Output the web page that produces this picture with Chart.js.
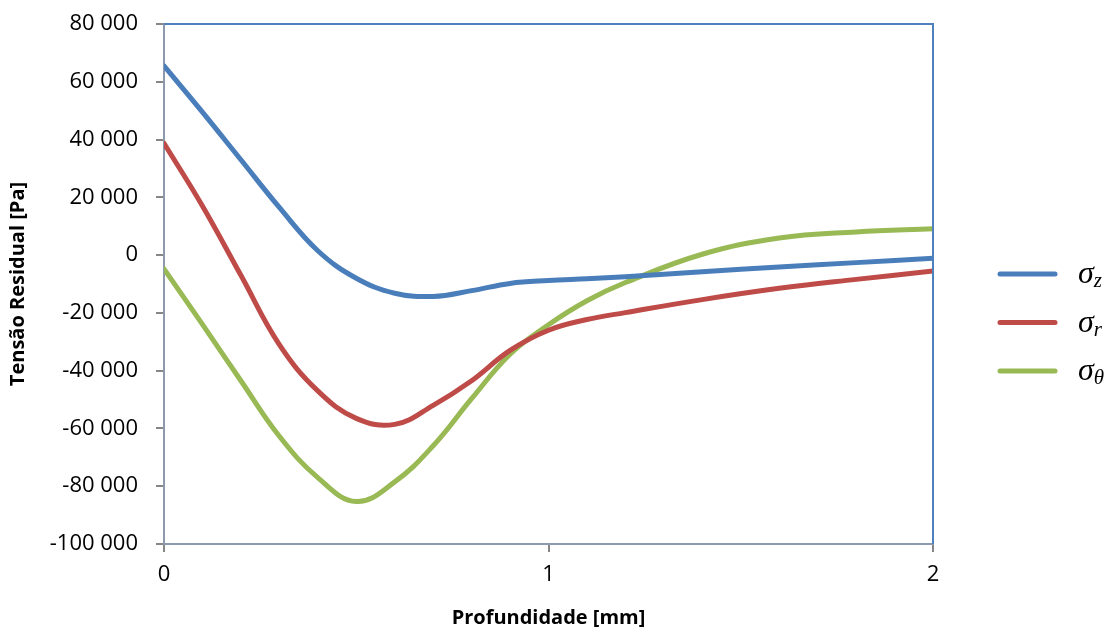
<!DOCTYPE html>
<html>
<head>
<meta charset="utf-8">
<script src="https://cdn.jsdelivr.net/npm/chart.js@4"></script>
<style>
  html, body { margin: 0; padding: 0; background: #ffffff; }
  #wrap { width: 1116px; height: 631px; position: relative; }
</style>
</head>
<body>
<div id="wrap"><canvas id="c" width="1116" height="631"></canvas></div>
<script>
// ---- data ----
const depth = [0, 0.1, 0.2, 0.3, 0.4, 0.5, 0.6, 0.7, 0.8, 0.9, 1.0, 1.1, 1.2, 1.4, 1.6, 1.8, 2.0];
const sigmaZ = [65500, 49500, 33000, 16500, 1500, -8000, -13200, -14300, -12300, -9800, -8800, -8200, -7500, -5800, -4100, -2600, -1100];
const sigmaR = [38700, 17000, -7000, -31000, -47000, -56500, -58600, -52000, -43500, -33000, -26000, -22300, -19900, -15400, -11500, -8400, -5500];
const sigmaTheta = [-4800, -24000, -43500, -62700, -77000, -85300, -78500, -66000, -49700, -34300, -24100, -15800, -9500, 300, 5900, 8000, 9100];
const seriesSymbols = ['σ', 'σ', 'σ'];
const seriesSubscripts = ['z', 'r', 'θ'];
const seriesColors = ['#4a7ebb', '#be4b48', '#98b954'];
const yTicks = [-100000, -80000, -60000, -40000, -20000, 0, 20000, 40000, 60000, 80000];
const xTicks = [0, 1, 2];
const xTitle = 'Profundidade [mm]';
const yTitle = 'Tensão Residual [Pa]';

function toPoints(xs, ys) { return xs.map((x, i) => ({ x: x, y: ys[i] })); }
function fmtThousands(v) {
  const s = Math.abs(v).toString().replace(/\B(?=(\d{3})+(?!\d))/g, ' ');
  return (v < 0 ? '-' : '') + s;
}

const seriesValues = [sigmaZ, sigmaR, sigmaTheta];
const datasets = seriesValues.map((vals, i) => ({
  label: seriesSymbols[i] + seriesSubscripts[i],
  data: toPoints(depth, vals),
  borderColor: seriesColors[i],
  backgroundColor: seriesColors[i],
  borderWidth: 5,
  pointRadius: 0,
  fill: false,
  tension: 0.4,
  borderCapStyle: 'round',
  borderJoinStyle: 'round'
}));

const frameAndLegend = {
  id: 'frameAndLegend',
  afterDraw(chart) {
    const ctx = chart.ctx;
    const a = chart.chartArea;
    ctx.save();
    // plot-area frame (top and right)
    ctx.strokeStyle = '#4f81bd';
    ctx.lineWidth = 2;
    ctx.beginPath();
    ctx.moveTo(a.left, a.top);
    ctx.lineTo(a.right, a.top);
    ctx.lineTo(a.right, a.bottom);
    ctx.stroke();
    // legend
    const x0 = 1000, x1 = 1055, tx = 1078;
    const ys = [274, 322.5, 371];
    chart.data.datasets.forEach((ds, i) => {
      const y = ys[i];
      ctx.strokeStyle = ds.borderColor;
      ctx.lineWidth = 5;
      ctx.lineCap = 'round';
      ctx.beginPath();
      ctx.moveTo(x0, y);
      ctx.lineTo(x1, y);
      ctx.stroke();
      ctx.fillStyle = '#000';
      ctx.textBaseline = 'alphabetic';
      ctx.textAlign = 'left';
      ctx.font = 'italic 32px "Liberation Serif"';
      const base = seriesSymbols[i];
      ctx.fillText(base, tx, y + 9);
      const w = ctx.measureText(base).width;
      ctx.font = 'italic 21px "Liberation Serif"';
      ctx.fillText(seriesSubscripts[i], tx + w, y + 13);
    });
    ctx.restore();
  }
};

new Chart(document.getElementById('c'), {
  type: 'line',
  data: { datasets: datasets },
  options: {
    responsive: false,
    animation: false,
    devicePixelRatio: 1,
    layout: { padding: { top: 24, right: 183, left: 0, bottom: 0 } },
    plugins: { legend: { display: false }, tooltip: { enabled: false } },
    scales: {
      x: {
        type: 'linear',
        min: 0, max: 2,
        afterBuildTicks(scale) { scale.ticks = xTicks.map(v => ({ value: v })); },
        afterFit(scale) { scale.height = 87; },
        ticks: {
          color: '#000',
          font: { family: '"Open Sans"', size: 22 },
          padding: 10,
          maxRotation: 0,
          callback: v => String(v)
        },
        grid: { drawOnChartArea: false, drawTicks: true, tickLength: 8, color: '#868686', lineWidth: 2 },
        border: { color: '#8d9aae', width: 2 },
        title: {
          display: true, text: xTitle, color: '#000',
          font: { family: '"Open Sans"', size: 20, weight: 'bold' },
          padding: { top: 0, bottom: 1 }
        }
      },
      y: {
        type: 'linear',
        min: -100000, max: 80000,
        afterBuildTicks(scale) { scale.ticks = yTicks.map(v => ({ value: v })); },
        afterFit(scale) { scale.width = 164; scale.paddingTop = 0; scale.paddingBottom = 0; },
        ticks: {
          color: '#000',
          font: { family: '"Open Sans"', size: 22 },
          padding: 18,
          callback: v => fmtThousands(v)
        },
        grid: { drawOnChartArea: false, drawTicks: true, tickLength: 8, color: '#868686', lineWidth: 2 },
        border: { color: '#8d9aae', width: 2 },
        title: {
          display: true, text: yTitle, color: '#000',
          font: { family: '"Open Sans"', size: 20, weight: 'bold' },
          padding: { top: 6, bottom: 0 }
        }
      }
    }
  },
  plugins: [frameAndLegend]
});
</script>
</body>
</html>
